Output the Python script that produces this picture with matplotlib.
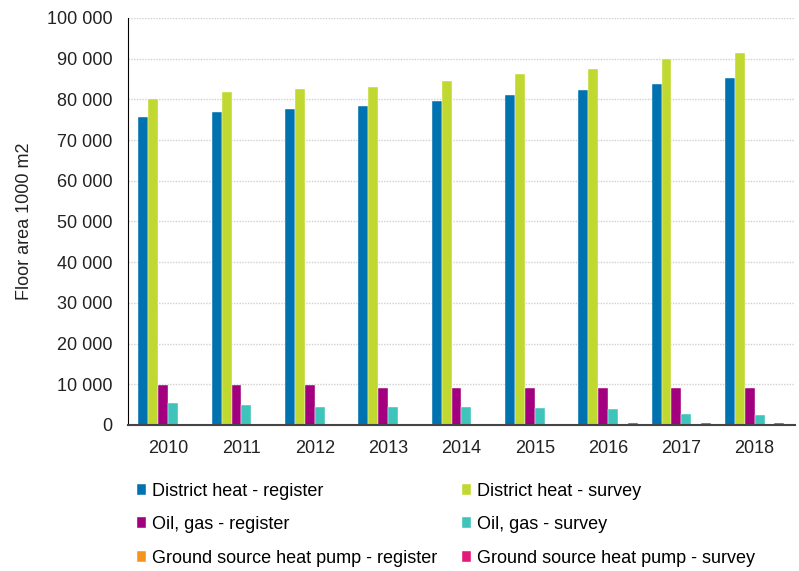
import numpy as np
import matplotlib
matplotlib.use("Agg")
import matplotlib.pyplot as plt
from matplotlib.ticker import FuncFormatter

plt.rcParams['font.family'] = ['Liberation Sans', 'DejaVu Sans']

years = ["2010", "2011", "2012", "2013", "2014", "2015", "2016", "2017", "2018"]
district_register = [75600, 76800, 77600, 78400, 79500, 81000, 82200, 83800, 85200]
district_survey = [80200, 81800, 82600, 83000, 84600, 86200, 87400, 89900, 91300]
oil_register = [9800, 9800, 9800, 9200, 9200, 9200, 9200, 9200, 9200]
oil_survey = [5300, 4900, 4500, 4500, 4400, 4100, 4000, 2800, 2400]
gshp_register = [0, 0, 0, 0, 0, 0, 0, 0, 0]
gshp_survey = [0, 0, 0, 0, 0, 0, 600, 600, 600]

series = [
    ("District heat - register", district_register, "#0072b0"),
    ("District heat - survey", district_survey, "#c0d82f"),
    ("Oil, gas - register", oil_register, "#a2007e"),
    ("Oil, gas - survey", oil_survey, "#3ec4ba"),
    ("Ground source heat pump - register", gshp_register, "#f7941d"),
    ("Ground source heat pump - survey", gshp_survey, "#e5197b"),
]

fig = plt.figure(figsize=(7.99, 5.71), dpi=100)
ax = fig.add_axes([0.160, 0.2557, 0.835, 0.7128])

x = np.arange(len(years))
w = 0.135
bars = []
for i, (name, vals, col) in enumerate(series):
    b = ax.bar(x + (i - 2.5) * w, vals, width=w, color=col, label=name,
               edgecolor="white", linewidth=0.3)
    bars.append(b)

ax.set_xlim(-0.55, len(years) - 0.45)
ax.set_ylim(0, 100000)
ax.set_yticks(range(0, 100001, 10000))
ax.yaxis.set_major_formatter(FuncFormatter(lambda v, p: f"{int(v):,}".replace(",", " ")))
ax.set_xticks(x)
ax.set_xticklabels(years)
ax.tick_params(axis="both", length=0, labelsize=13, colors="#222222")
ax.tick_params(axis="x", pad=11)
ax.tick_params(axis="y", pad=11)
ax.set_ylabel("Floor area 1000 m2", fontsize=13, color="#222222", labelpad=10)

ax.grid(axis="y", color="#d0d0d0", linestyle=(0, (1, 1)), linewidth=1)
ax.set_axisbelow(True)
for s in ["top", "right"]:
    ax.spines[s].set_visible(False)
ax.spines["left"].set_color("#000000")
ax.spines["bottom"].set_color("#444444")
ax.spines["bottom"].set_linewidth(1.5)

order = [0, 2, 4, 1, 3, 5]
fig.legend([bars[i] for i in order], [series[i][0] for i in order],
           loc="upper left", bbox_to_anchor=(0.172, 0.154), ncol=2, frameon=False,
           fontsize=13, handlelength=0.5, handleheight=0.55, handletextpad=0.3,
           columnspacing=1.4, labelspacing=0.9, borderpad=0, borderaxespad=0)

fig.savefig("out.png", dpi=100)
